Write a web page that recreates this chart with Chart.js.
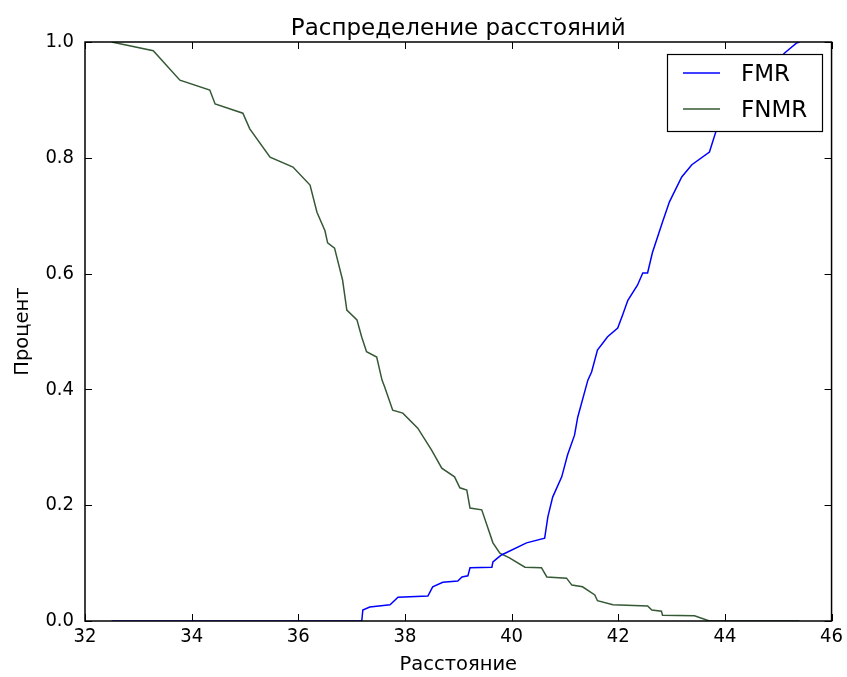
<!DOCTYPE html>
<html>
<head>
<meta charset="utf-8">
<script src="https://cdn.jsdelivr.net/npm/chart.js@4.4.1/dist/chart.umd.min.js"></script>
<style>
html,body{margin:0;padding:0;background:#fff;}
#wrap{width:847px;height:677px;}
</style>
</head>
<body>
<div id="wrap"><canvas id="c" width="847" height="677"></canvas></div>
<script>
const chartTitle = "Распределение расстояний";
const xTitle = "Расстояние";
const yTitle = "Процент";
const seriesNames = ["FMR", "FNMR"];
const xTicks = [32, 34, 36, 38, 40, 42, 44, 46];
const yTicks = [0.0, 0.2, 0.4, 0.6, 0.8, 1.0];

const fmrX = [32.5, 37.19, 37.21, 37.34, 37.72, 37.87, 38.43, 38.52, 38.71, 38.99, 39.07, 39.18, 39.22, 39.63, 39.65, 39.74, 39.81, 40.28, 40.62, 40.68, 40.77, 40.94, 41.05, 41.18, 41.24, 41.43, 41.50, 41.61, 41.80, 41.99, 42.08, 42.18, 42.36, 42.46, 42.55, 42.64, 42.83, 42.96, 43.19, 43.38, 43.71, 43.84, 44.2, 44.6, 44.9, 45.12, 45.34, 45.4];
const fmrY = [0.0, 0.0, 0.019, 0.024, 0.028, 0.041, 0.043, 0.059, 0.067, 0.069, 0.076, 0.078, 0.092, 0.093, 0.102, 0.109, 0.114, 0.135, 0.143, 0.180, 0.214, 0.249, 0.287, 0.321, 0.352, 0.416, 0.430, 0.468, 0.491, 0.506, 0.528, 0.554, 0.580, 0.601, 0.601, 0.636, 0.689, 0.724, 0.767, 0.788, 0.810, 0.848, 0.89, 0.93, 0.96, 0.981, 0.998, 1.0];

const fnmrX = [32.5, 33.28, 33.78, 34.34, 34.44, 34.96, 35.09, 35.47, 35.90, 36.22, 36.35, 36.50, 36.55, 36.68, 36.83, 36.91, 37.10, 37.19, 37.28, 37.47, 37.57, 37.62, 37.77, 37.96, 38.24, 38.50, 38.69, 38.93, 39.03, 39.16, 39.22, 39.44, 39.65, 39.78, 39.96, 40.25, 40.56, 40.66, 41.03, 41.13, 41.33, 41.56, 41.61, 41.90, 42.55, 42.63, 42.81, 42.83, 43.43, 43.71, 45.4];
const fnmrY = [1.0, 0.985, 0.934, 0.917, 0.893, 0.877, 0.850, 0.801, 0.784, 0.753, 0.706, 0.674, 0.653, 0.644, 0.589, 0.537, 0.520, 0.490, 0.465, 0.456, 0.416, 0.404, 0.364, 0.359, 0.333, 0.295, 0.264, 0.249, 0.230, 0.226, 0.195, 0.192, 0.135, 0.117, 0.109, 0.093, 0.092, 0.076, 0.074, 0.062, 0.059, 0.045, 0.035, 0.028, 0.026, 0.019, 0.017, 0.010, 0.009, 0.0, 0.0];

const FONT = "'DejaVu Sans', sans-serif";
const FONT_C = "'DejaVu Sans Condensed', 'DejaVu Sans', sans-serif";
const toPts = (xs, ys) => xs.map((x, i) => ({x: x, y: ys[i]}));

const framePlugin = {
  id: 'frame',
  afterDatasetsDraw(chart) {
    const ctx = chart.ctx, a = chart.chartArea;
    const xs = chart.scales.x, ys = chart.scales.y;
    ctx.save();
    // title centred over the plot area
    ctx.fillStyle = '#000';
    ctx.font = '23px ' + FONT;
    ctx.textAlign = 'center';
    ctx.textBaseline = 'alphabetic';
    ctx.fillText(chartTitle, (a.left + a.right) / 2, 35);
    ctx.strokeStyle = '#000';
    ctx.lineWidth = 1;
    const L = 7;
    ctx.beginPath();
    xTicks.forEach(v => {
      const p = Math.round(xs.getPixelForValue(v)) + 0.5;
      ctx.moveTo(p, a.bottom); ctx.lineTo(p, a.bottom - L);
      ctx.moveTo(p, a.top); ctx.lineTo(p, a.top + L);
    });
    yTicks.forEach(v => {
      const p = Math.round(ys.getPixelForValue(v)) + 0.5;
      ctx.moveTo(a.left, p); ctx.lineTo(a.left + L, p);
      ctx.moveTo(a.right, p); ctx.lineTo(a.right - L, p);
    });
    ctx.stroke();
    ctx.lineWidth = 1.5;
    ctx.strokeRect(a.left, a.top, a.right - a.left, a.bottom - a.top);
    // legend
    const bx = 667, by = 54, bw = 155, bh = 77;
    ctx.fillStyle = '#fff';
    ctx.fillRect(bx, by, bw, bh);
    ctx.lineWidth = 1.2;
    ctx.strokeStyle = '#000';
    ctx.strokeRect(bx + 0.5, by + 0.5, bw, bh);
    const ds = chart.data.datasets;
    const rows = [73, 109];
    ds.forEach((d, i) => {
      ctx.strokeStyle = d.borderColor;
      ctx.lineWidth = 1.5;
      ctx.beginPath();
      ctx.moveTo(683, rows[i]); ctx.lineTo(720, rows[i]);
      ctx.stroke();
      ctx.fillStyle = '#000';
      ctx.font = '23px ' + FONT;
      ctx.textBaseline = 'middle';
      ctx.textAlign = 'left';
      ctx.fillText(d.label, 741, rows[i] + 2);
    });
    ctx.restore();
  }
};

new Chart(document.getElementById('c'), {
  type: 'line',
  data: {
    datasets: [
      {label: seriesNames[0], data: toPts(fmrX, fmrY), borderColor: '#0000ff', borderWidth: 1.5, pointRadius: 0, tension: 0, fill: false},
      {label: seriesNames[1], data: toPts(fnmrX, fnmrY), borderColor: '#355835', borderWidth: 1.5, pointRadius: 0, tension: 0, fill: false}
    ]
  },
  options: {
    responsive: false,
    animation: false,
    layout: {padding: {left: 0, right: 15, top: 42, bottom: 0}},
    plugins: {
      legend: {display: false},
      tooltip: {enabled: false},
      title: {display: false}
    },
    scales: {
      x: {
        type: 'linear', min: 32, max: 46,
        afterBuildTicks: s => { s.ticks = xTicks.map(v => ({value: v})); },
        afterFit: s => { s.height = 56; },
        grid: {display: false, drawTicks: false},
        border: {display: false},
        ticks: {color: '#000', padding: 4, font: {family: FONT_C, size: 20}, callback: v => String(v)},
        title: {display: true, text: xTitle, color: '#000', font: {family: FONT, size: 19.5}, padding: {top: 0, bottom: 0}}
      },
      y: {
        type: 'linear', min: 0, max: 1,
        afterBuildTicks: s => { s.ticks = yTicks.map(v => ({value: v})); },
        afterFit: s => { s.width = 85; },
        grid: {display: false, drawTicks: false},
        border: {display: false},
        ticks: {color: '#000', padding: 11, font: {family: FONT_C, size: 20}, callback: v => Number(v).toFixed(1)},
        title: {display: true, text: yTitle, color: '#000', font: {family: FONT, size: 19.5}, padding: {top: 11, bottom: 0}}
      }
    }
  },
  plugins: [framePlugin]
});
</script>
</body>
</html>
